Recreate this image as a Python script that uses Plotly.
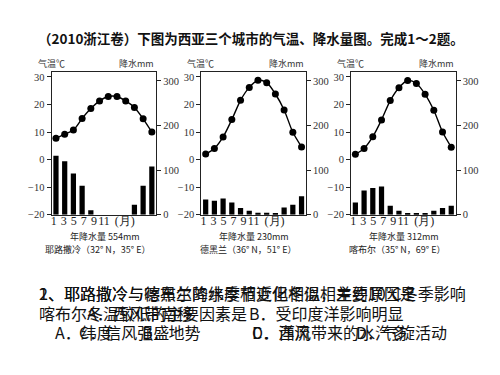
import plotly.graph_objects as go

months = list(range(1, 13))
month_tick_labels = ["1", "3", "5", "7", "9", "11", "(月)"]

cities = ["耶路撒冷（32° N，35° E）", "德黑兰（36° N，51° E）", "喀布尔（35° N，69° E）"]
annual_precip = ["年降水量 554mm", "年降水量 230mm", "年降水量 312mm"]

temp_jerusalem = [7.7, 9.2, 10.7, 14.9, 18.5, 21.3, 22.9, 22.9, 21.3, 18.9, 14.8, 10.0]
temp_tehran = [2.0, 4.0, 8.2, 14.5, 21.5, 26.2, 28.8, 27.9, 23.8, 18.0, 9.9, 4.6]
temp_kabul = [1.9, 4.0, 8.3, 14.4, 21.4, 26.1, 28.7, 27.6, 23.7, 17.9, 10.0, 4.5]

precip_jerusalem = [132, 120, 92, 65, 10, 0, 0, 0, 0, 22, 65, 108]
precip_tehran = [34, 31, 36, 27, 15, 9, 4, 4, 3, 16, 22, 41]
precip_kabul = [27, 54, 60, 63, 20, 9, 3, 3, 2, 9, 15, 20]

temp_ticks = [-20, -10, 0, 10, 20, 30]
precip_ticks = [0, 100, 200, 300]

title_text = "（2010浙江卷）下图为西亚三个城市的气温、降水量图。完成1～2题。"

temps = [temp_jerusalem, temp_tehran, temp_kabul]
precips = [precip_jerusalem, precip_tehran, precip_kabul]

W, H = 500, 375
def px(x):
    return x / W
def py(y):
    return 1 - y / H

x_left = [42.7, 192.7, 342.7]
plot_w = 104.8
y_top, y_bot = 65, 210

# label slots along the month axis (the printed labels are packed tighter than months)
label_pos = [0.75 + 1.15 * k for k in range(len(month_tick_labels) - 1)] + [8.9]

fig = go.Figure()
layout = dict(
    width=W, height=H, margin=dict(l=0, r=0, t=0, b=0),
    paper_bgcolor="white", plot_bgcolor="white", showlegend=False,
    bargap=0.4,
)
axis_font = dict(family="Liberation Serif, Times New Roman, serif", size=10.5, color="#333")
annotations = []
for i in range(3):
    xa = "x" if i == 0 else f"x{i+1}"
    ya_p = f"y{2*i+1}" if i > 0 else "y"
    ya_t = f"y{2*i+2}"
    fig.add_trace(go.Bar(x=months, y=precips[i], marker=dict(color="black", line=dict(width=0)),
                         xaxis=xa, yaxis=ya_p))
    fig.add_trace(go.Scatter(x=months, y=temps[i], mode="lines+markers",
                             line=dict(color="black", width=1.4, shape="spline", smoothing=0.8),
                             marker=dict(color="black", size=7),
                             xaxis=xa, yaxis=ya_t))
    xkey = "xaxis" if i == 0 else f"xaxis{i+1}"
    ypkey = "yaxis" if i == 0 else f"yaxis{2*i+1}"
    ytkey = f"yaxis{2*i+2}"
    dom = [px(x_left[i]), px(x_left[i] + plot_w)]
    layout[xkey] = dict(domain=dom, range=[0.5, 12.5], tickvals=label_pos,
                        ticktext=month_tick_labels, ticks="", tickangle=0,
                        ticklabelstandoff=-5,
                        tickfont=dict(family="Liberation Serif, serif", size=12, color="#222"),
                        showline=True, mirror=True, linecolor="#222", linewidth=1,
                        showgrid=False, zeroline=False, anchor=ya_p)
    layout[ypkey] = dict(domain=[py(y_bot), py(y_top)], range=[0, 320], side="right",
                         anchor=xa, tickvals=precip_ticks, ticks="outside", ticklen=4,
                         tickcolor="#222", showline=True, linecolor="#222", linewidth=1,
                         showgrid=False, zeroline=False, tickfont=axis_font)
    layout[ytkey] = dict(overlaying=ya_p, range=[-20, 31.8], side="left", anchor=xa,
                         tickvals=temp_ticks, ticks="outside", ticklen=4, tickcolor="#222",
                         showline=True, linecolor="#222", linewidth=1,
                         showgrid=False, zeroline=False, tickfont=axis_font)
    # axis titles
    annotations.append(dict(x=px(x_left[i] - 16), y=py(56), xref="paper", yref="paper",
                            text="气温℃", showarrow=False, xanchor="left", yanchor="middle",
                            font=dict(family="Noto Sans CJK SC", size=9, color="#333")))
    annotations.append(dict(x=px(x_left[i] + plot_w), y=py(56), xref="paper", yref="paper",
                            text="降水mm", showarrow=False, xanchor="right", yanchor="middle",
                            font=dict(family="Noto Sans CJK SC", size=9, color="#333")))
    cx = x_left[i] + plot_w / 2 - 6
    annotations.append(dict(x=px(x_left[i] + 53), y=py(232), xref="paper", yref="paper",
                            text=annual_precip[i], showarrow=False, xanchor="center",
                            yanchor="middle",
                            font=dict(family="Noto Sans CJK SC", size=9, color="#222")))
    annotations.append(dict(x=px(cx), y=py(245), xref="paper", yref="paper",
                            text=cities[i], showarrow=False, xanchor="center",
                            yanchor="middle",
                            font=dict(family="Noto Sans CJK SC", size=9, color="#222")))

annotations.append(dict(x=px(27), y=py(30), xref="paper", yref="paper", text="<b>" + title_text + "</b>",
                        showarrow=False, xanchor="left", yanchor="middle",
                        font=dict(family="Noto Sans CJK SC", size=13.5, color="#111")))

qfont = dict(family="Noto Sans CJK SC", size=16, color="#111")
q_lines = [
    # (x, y, text)
    (28, 290, "2、耶路撒冷与喀布尔的纬度相近但冬温相差约10℃冬季影响"),
    (28, 290, "1、耶路撒冷与德黑兰降水季节变化相似，主要原因是"),
    (28, 310, "喀布尔冬温较低的主要因素是"),
    (76, 310, "A．西风带南移"),
    (238, 310, "B．受印度洋影响明显"),
    (44, 329, "A．纬度"),
    (68, 329, "C．信风强盛"),
    (131, 329, "B．地势"),
    (241, 329, "C．洋流"),
    (241, 329, "D．西风带来的水汽多"),
    (346, 329, "D．气旋活动"),
]
for x, y, t in q_lines:
    annotations.append(dict(x=px(x), y=py(y), xref="paper", yref="paper", text=t,
                            showarrow=False, xanchor="left", yanchor="middle", font=qfont))

layout["annotations"] = annotations
fig.update_layout(**layout)
fig.write_html("out.html")
